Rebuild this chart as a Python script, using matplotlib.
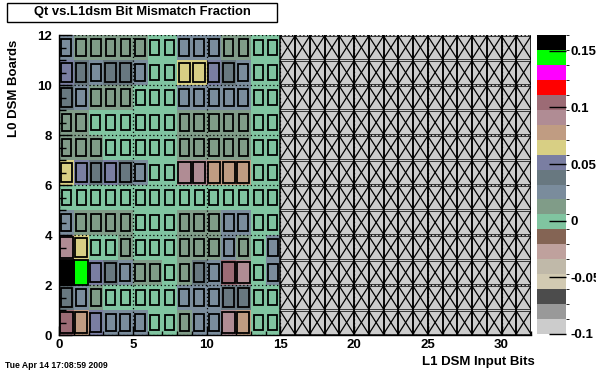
import numpy as np
import matplotlib
matplotlib.use("Agg")
import matplotlib.pyplot as plt
from matplotlib.colors import ListedColormap, BoundaryNorm
from matplotlib.patches import Rectangle
from matplotlib.lines import Line2D

plt.rcParams['font.family'] = ['Liberation Sans', 'DejaVu Sans']
plt.rcParams['font.weight'] = 'bold'

title = "Qt vs.L1dsm Bit Mismatch Fraction"
x_label = "L1 DSM Input Bits"
y_label = "L0 DSM Boards"
timestamp = "Tue Apr 14 17:08:59 2009"

n_bits = 32
n_boards = 12
unused_value = -0.1          # bits 15..31 are unused
z_min, z_max = -0.1, 0.164

# mismatch fraction per L1 DSM input bit (0..14), one list per L0 board
board_00 = [0.104, 0.078, 0.051, 0.025, 0.025, 0.025, 0.0, 0.0, 0.012, 0.025, 0.025, 0.091, 0.078, 0.0, 0.0]
board_01 = [0.038, 0.025, 0.012, 0.0, 0.0, 0.0, 0.0, 0.0, 0.025, 0.025, 0.025, 0.038, 0.038, 0.0, 0.0]
board_02 = [0.158, 0.145, 0.051, 0.038, 0.025, 0.012, 0.012, 0.0, 0.012, 0.038, 0.025, 0.104, 0.091, 0.0, 0.025]
board_03 = [0.091, 0.065, 0.0, 0.0, 0.012, 0.0, 0.0, 0.0, 0.012, 0.012, 0.012, 0.025, 0.012, 0.0, 0.025]
board_04 = [0.025, 0.012, 0.012, 0.012, 0.012, 0.0, 0.0, 0.0, 0.012, 0.012, 0.012, 0.025, 0.025, 0.0, 0.0]
board_05 = [0.0, 0.0, 0.0, 0.0, 0.0, 0.0, 0.0, 0.0, 0.0, 0.0, 0.0, 0.0, 0.0, 0.0, 0.0]
board_06 = [0.065, 0.051, 0.038, 0.051, 0.038, 0.025, 0.0, 0.0, 0.091, 0.091, 0.078, 0.078, 0.078, 0.0, 0.0]
board_07 = [0.012, 0.012, 0.012, 0.0, 0.0, 0.0, 0.0, 0.0, 0.012, 0.012, 0.012, 0.012, 0.012, 0.0, 0.0]
board_08 = [0.012, 0.012, 0.0, 0.0, 0.0, 0.0, 0.0, 0.0, 0.012, 0.012, 0.012, 0.012, 0.012, 0.0, 0.0]
board_09 = [0.038, 0.025, 0.012, 0.012, 0.012, 0.0, 0.0, 0.0, 0.025, 0.025, 0.025, 0.025, 0.025, 0.0, 0.0]
board_10 = [0.051, 0.038, 0.025, 0.038, 0.038, 0.025, 0.0, 0.0, 0.065, 0.065, 0.051, 0.038, 0.025, 0.0, 0.0]
board_11 = [0.025, 0.012, 0.012, 0.012, 0.012, 0.012, 0.0, 0.0, 0.025, 0.025, 0.025, 0.012, 0.012, 0.0, 0.0]

boards = [board_00, board_01, board_02, board_03, board_04, board_05,
          board_06, board_07, board_08, board_09, board_10, board_11]

palette = ['#cccccc', '#999999', '#4c4c4c', '#d2cab2', '#c0b9a9', '#bfa19d',
           '#846454', '#80c4a0', '#809c88', '#7a8c9c', '#687880', '#7a7ea2',
           '#d8cf84', '#c09c82', '#b08c94', '#9c6b75', '#ff0000', '#ff00ff',
           '#00ff00', '#000000']

x_ticks = [0, 5, 10, 15, 20, 25, 30]
y_ticks = [0, 2, 4, 6, 8, 10, 12]
cbar_ticks = [-0.1, -0.05, 0, 0.05, 0.1, 0.15]
cbar_labels = ['-0.1', '-0.05', '0', '0.05', '0.1', '0.15']

# ---- build matrix ----
Z = np.full((n_boards, n_bits), unused_value)
for i, row in enumerate(boards):
    Z[i, :len(row)] = row

W, H = 596, 372
fig = plt.figure(figsize=(W / 100, H / 100), dpi=100)
ax = fig.add_axes([59 / W, 1 - 335 / H, 472 / W, 300 / H])

levels = np.linspace(z_min, z_max, len(palette) + 1)
cmap = ListedColormap(palette)
norm = BoundaryNorm(levels, cmap.N)

xe = np.arange(n_bits + 1)
ye = np.arange(n_boards + 1)
mesh = ax.pcolormesh(xe, ye, Z, cmap=cmap, norm=norm, zorder=0)

inset_y = 0.04
for i in range(n_boards):
    for j in range(n_bits):
        z = Z[i, j]
        if z < 0:
            y0, y1 = i + inset_y, i + 1 - inset_y
            ax.add_line(Line2D([j, j], [y0, y1], color='black', lw=1.1, zorder=1))
            ax.add_line(Line2D([j + 1, j + 1], [y0, y1], color='black', lw=1.1, zorder=1))
            ax.add_line(Line2D([j, j + 1], [y0, y0], color='black', lw=0.5, zorder=1))
            ax.add_line(Line2D([j, j + 1], [y1, y1], color='black', lw=0.5, zorder=1))
            ax.add_line(Line2D([j, j + 1], [y0, y1], color='black', lw=0.9, zorder=1))
            ax.add_line(Line2D([j, j + 1], [y1, y0], color='black', lw=0.9, zorder=1))
        else:
            s = np.sqrt((z - z_min) / (z_max - z_min))
            ax.add_patch(Rectangle((j + 0.5 - s / 2, i + 0.5 - s / 2), s, s,
                                   fill=False, ec='black', lw=1.3, zorder=1))

ax.set_xlim(0, n_bits)
ax.set_ylim(0, n_boards)
ax.set_xticks(x_ticks)
ax.set_yticks(y_ticks)
ax.set_xticks(np.arange(0, n_bits + 1, 1), minor=True)
ax.set_yticks(np.arange(0, n_boards + 0.01, 0.5), minor=True)
ax.tick_params(axis='both', which='both', direction='in', top=False, right=False, color='black')
ax.tick_params(axis='x', which='major', length=6.5, width=1, pad=3, labelsize=9.5)
ax.tick_params(axis='x', which='minor', length=3, width=1)
ax.tick_params(axis='y', which='major', length=9, width=1, pad=5, labelsize=9.5)
ax.tick_params(axis='y', which='minor', length=5, width=1)
for lab in ax.get_xticklabels() + ax.get_yticklabels():
    lab.set_fontweight('bold')
ax.spines['top'].set_visible(False)
ax.spines['right'].set_visible(False)
ax.spines['left'].set_linewidth(1)
ax.spines['bottom'].set_linewidth(1)
ax.set_axisbelow(False)
ax.grid(True, which='major', color='black', linestyle=(0, (1, 2)), linewidth=0.9)

# colour bar
cax = fig.add_axes([537 / W, 1 - 334 / H, 29 / W, 299 / H])
cb = fig.colorbar(mesh, cax=cax, ticks=cbar_ticks)
cb.outline.set_visible(False)
cb.ax.set_yticklabels(cbar_labels)
cb.ax.tick_params(direction='in', length=12, width=1, pad=3, labelsize=9.5, color='black')
for lab in cb.ax.get_yticklabels():
    lab.set_fontweight('bold')

# title box
fig.add_artist(Rectangle((7 / W, 1 - 22 / H), 270 / W, 19 / H, transform=fig.transFigure,
                         fill=True, fc='white', ec='black', lw=1))
fig.text(142 / W, 1 - 12.5 / H, title, ha='center', va='center', fontsize=9.4, fontweight='bold')

fig.text(14 / W, 1 - 40 / H, y_label, rotation=90, ha='center', va='top', fontsize=9.5, fontweight='bold')
fig.text(535 / W, 1 - 362 / H, x_label, ha='right', va='center', fontsize=9.5, fontweight='bold')
fig.text(5 / W, 1 - 365 / H, timestamp, ha='left', va='center', fontsize=6.2, fontweight='bold')

fig.savefig('out.png', dpi=100)
